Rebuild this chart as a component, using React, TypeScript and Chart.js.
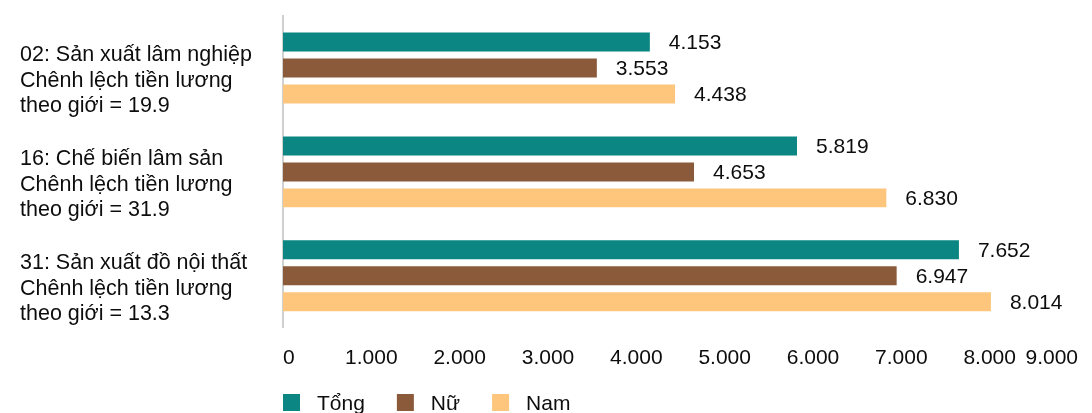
import React, { useEffect, useRef } from "react";
import { Chart, registerables } from "chart.js";

Chart.register(...registerables);

const categories: string[][] = [
  ["02: Sản xuất lâm nghiệp", "Chênh lệch tiền lương", "theo giới = 19.9"],
  ["16: Chế biến lâm sản", "Chênh lệch tiền lương", "theo giới = 31.9"],
  ["31: Sản xuất đồ nội thất", "Chênh lệch tiền lương", "theo giới = 13.3"],
];
const seriesNames = ["Tổng", "Nữ", "Nam"];
const tongValues = [4153, 5819, 7652];
const nuValues = [3553, 4653, 6947];
const namValues = [4438, 6830, 8014];
const seriesColors = ["#0b8682", "#8b5a3a", "#fdc67c"];
const xMin = 0;
const xMax = 9000;
const xStep = 1000;

const FONT = "'Liberation Sans', Arial, sans-serif";
const TEXT = "#0d0d0d";

const fmt = (v: number) =>
  String(Math.round(v)).replace(/\B(?=(\d{3})+(?!\d))/g, ".");

const valueLabels = {
  id: "valueLabels",
  afterDatasetsDraw(chart: any) {
    const ctx = chart.ctx;
    ctx.save();
    ctx.font = `21px ${FONT}`;
    ctx.fillStyle = TEXT;
    ctx.textAlign = "left";
    ctx.textBaseline = "middle";
    chart.data.datasets.forEach((ds: any, i: number) => {
      const meta = chart.getDatasetMeta(i);
      meta.data.forEach((bar: any, j: number) => {
        ctx.fillText(fmt(ds.data[j]), bar.x + 19, bar.y + 1);
      });
    });
    ctx.restore();
  },
};

const customLegend = {
  id: "customLegend",
  afterDraw(chart: any) {
    const ctx = chart.ctx;
    ctx.save();
    ctx.font = `21px ${FONT}`;
    ctx.textAlign = "left";
    ctx.textBaseline = "middle";
    let x = chart.chartArea.left;
    const y = 394;
    chart.data.datasets.forEach((ds: any) => {
      ctx.fillStyle = ds.backgroundColor;
      ctx.fillRect(x, y, 17, 17);
      ctx.fillStyle = TEXT;
      const tx = x + 34;
      ctx.fillText(ds.label, tx, y + 10);
      x = tx + ctx.measureText(ds.label).width + 32;
    });
    ctx.restore();
  },
};

export default function App() {
  const ref = useRef<HTMLCanvasElement | null>(null);
  useEffect(() => {
    if (!ref.current) return;
    const values = [tongValues, nuValues, namValues];
    const chart = new Chart(ref.current, {
      type: "bar",
      data: {
        labels: categories as any,
        datasets: seriesNames.map((name, i) => ({
          label: name,
          data: values[i],
          backgroundColor: seriesColors[i],
          borderWidth: 0,
          barPercentage: 0.73,
          categoryPercentage: 0.75,
        })),
      },
      options: {
        indexAxis: "y",
        animation: false,
        responsive: true,
        maintainAspectRatio: false,
        layout: { padding: { left: 20, right: 14, top: 16, bottom: 24 } },
        plugins: {
          legend: { display: false },
          tooltip: { enabled: false },
        },
        scales: {
          x: {
            min: xMin,
            max: xMax,
            grid: { display: false, drawTicks: false },
            border: { display: false },
            ticks: {
              stepSize: xStep,
              padding: 18,
              align: "inner",
              color: TEXT,
              font: { family: FONT, size: 21, lineHeight: 1.2 },
              callback: (v: any) => fmt(Number(v)),
            },
            afterFit: (s: any) => {
              s.paddingLeft = 0;
              s.paddingRight = 0;
            },
          },
          y: {
            grid: { display: false, drawTicks: false },
            border: { display: true, color: "#d0d0d0", width: 2 },
            ticks: {
              crossAlign: "far",
              padding: 0,
              labelOffset: 13,
              color: TEXT,
              font: { family: FONT, size: 21.5, lineHeight: 1.19 },
            },
            afterFit: (s: any) => {
              s.width = 263;
              s.paddingTop = 0;
              s.paddingBottom = 0;
            },
          },
        },
      },
      plugins: [valueLabels, customLegend],
    });
    return () => chart.destroy();
  }, []);
  return (
    <div
      style={{
        position: "absolute",
        left: 0,
        top: 0,
        width: 1092,
        height: 413,
        background: "#fff",
      }}
    >
      <canvas ref={ref} />
    </div>
  );
}
